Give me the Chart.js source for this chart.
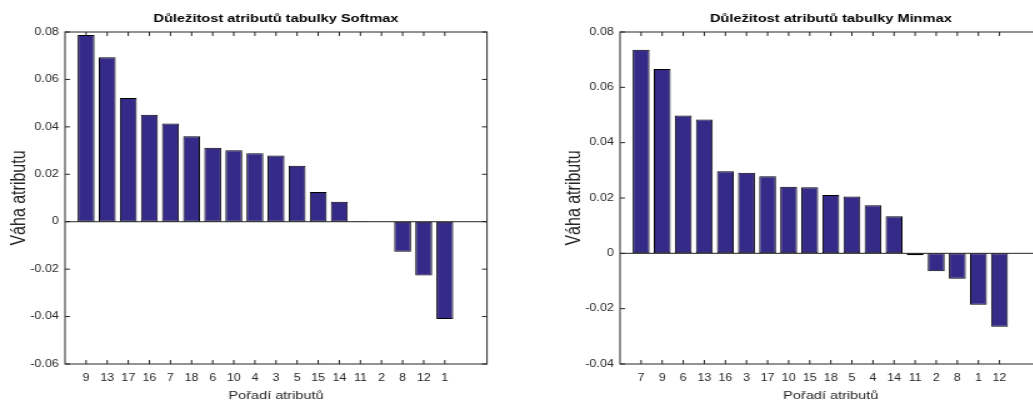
<!DOCTYPE html>
<html>
<head>
<meta charset="utf-8">
<script src="https://cdn.jsdelivr.net/npm/chart.js@4/dist/chart.umd.min.js"></script>
<style>
  html, body { margin: 0; padding: 0; background: #fff; overflow: hidden; }
  #page { position: relative; width: 1033px; height: 405px; overflow: hidden; }
  /* the source figure is stretched 1.25x horizontally, text included */
  .panel { position: absolute; top: 0; height: 405px; transform: scaleX(1.25); transform-origin: 0 0; }
  #p1 { left: 0; width: 400px; }
  #p2 { left: 530px; width: 420px; }
</style>
</head>
<body>
<div id="page">
  <div class="panel" id="p1"><canvas id="softmax"></canvas></div>
  <div class="panel" id="p2"><canvas id="minmax"></canvas></div>
</div>
<script>
// ===== DATA =====
const softmaxOrder = [9, 13, 17, 16, 7, 18, 6, 10, 4, 3, 5, 15, 14, 11, 2, 8, 12, 1];
const softmaxWeights = [0.0787, 0.0693, 0.0522, 0.0451, 0.0414, 0.0360, 0.0312, 0.0301, 0.0289,
  0.0279, 0.0236, 0.0125, 0.0084, 0.0002, 0.0001, -0.0127, -0.0227, -0.0410];
const softmaxRange = [-0.06, 0.08];

const minmaxOrder = [7, 9, 6, 13, 16, 3, 17, 10, 15, 18, 5, 4, 14, 11, 2, 8, 1, 12];
const minmaxWeights = [0.0736, 0.0666, 0.0498, 0.0484, 0.0297, 0.0291, 0.0279, 0.0241, 0.0239,
  0.0211, 0.0205, 0.0174, 0.0134, -0.0007, -0.0065, -0.0092, -0.0186, -0.0265];
const minmaxRange = [-0.04, 0.08];

const yStep = 0.02;

// ===== STYLE =====
const FONT = '"Liberation Sans", Arial, Helvetica, sans-serif';
const BAR_FILL = 'rgb(53,42,135)';
const AXIS = '#262626';

// title over the plot area, box, inward ticks and zero baseline like matlab's bar()
const matlabAxes = {
  id: 'matlabAxes',
  afterDatasetsDraw(chart, args, opts) {
    const { ctx, chartArea: a, scales: { x, y } } = chart;
    const line = (x1, y1, x2, y2) => { ctx.beginPath(); ctx.moveTo(x1, y1); ctx.lineTo(x2, y2); ctx.stroke(); };
    ctx.save();
    ctx.strokeStyle = AXIS;
    ctx.lineWidth = 1;
    const y0 = y.getPixelForValue(0);
    line(a.left, y0, a.right, y0);
    ctx.strokeRect(a.left, a.top, a.width, a.height);
    y.ticks.forEach(t => {
      const py = y.getPixelForValue(t.value);
      line(a.left, py, a.left + 4, py);
      line(a.right, py, a.right - 4, py);
    });
    chart.data.labels.forEach((l, i) => {
      if (l === '') return;
      const px = x.getPixelForValue(i);
      line(px, a.bottom, px, a.bottom - 4);
      line(px, a.top, px, a.top + 4);
    });

    ctx.fillStyle = '#000';
    ctx.font = 'bold 11.7px ' + FONT;
    ctx.textAlign = 'center';
    ctx.textBaseline = 'middle';
    ctx.fillText(opts.title, (a.left + a.right) / 2, 19);
    ctx.restore();
  }
};

function makeChart(id, title, order, weights, range, yWidth, yTitlePad, rightPad) {
  // slot 0 and slots 19,20 stay empty: matlab xlim is [0 20]
  const labels = [''].concat(order.map(String), ['', '']);
  const values = [null].concat(weights, [null, null]);

  return new Chart(document.getElementById(id), {
    type: 'bar',
    data: {
      labels,
      datasets: [{
        data: values,
        backgroundColor: BAR_FILL,
        borderColor: '#000',
        borderWidth: 1,
        borderSkipped: false,
        barPercentage: 0.8,
        categoryPercentage: 1,
      }]
    },
    options: {
      responsive: true,
      maintainAspectRatio: false,
      animation: false,
      layout: { padding: { left: 0, right: rightPad, top: 32, bottom: 0 } },
      plugins: {
        legend: { display: false },
        tooltip: { enabled: false },
        title: { display: false },
        matlabAxes: { title },
      },
      scales: {
        x: {
          type: 'category',
          offset: false,
          grid: { display: false, drawTicks: false },
          border: { display: false },
          ticks: { autoSkip: false, maxRotation: 0, padding: 8, color: AXIS, font: { family: FONT, size: 10 } },
          title: { display: true, text: 'Pořadí atributů', color: AXIS, font: { family: FONT, size: 11.6 }, padding: { top: 0, bottom: 2 } },
          afterFit: s => { s.height = 41; },
        },
        y: {
          min: range[0],
          max: range[1],
          grid: { display: false, drawTicks: false },
          border: { display: false },
          ticks: {
            stepSize: yStep,
            padding: 5,
            color: AXIS,
            font: { family: FONT, size: 10 },
            callback: v => String(+(+v).toFixed(2)),
          },
          title: { display: true, text: 'Váha atributu', color: AXIS, font: { family: FONT, size: 16 }, padding: { top: yTitlePad, bottom: 0 } },
          afterFit: s => { s.width = yWidth; },
        },
      },
    },
    plugins: [matlabAxes],
  });
}

makeChart('softmax', 'Důležitost atributů tabulky Softmax', softmaxOrder, softmaxWeights, softmaxRange, 52, 5.6, 10.4);
makeChart('minmax', 'Důležitost atributů tabulky Minmax', minmaxOrder, minmaxWeights, minmaxRange, 72, 25.6, 10.7);
</script>
</body>
</html>
